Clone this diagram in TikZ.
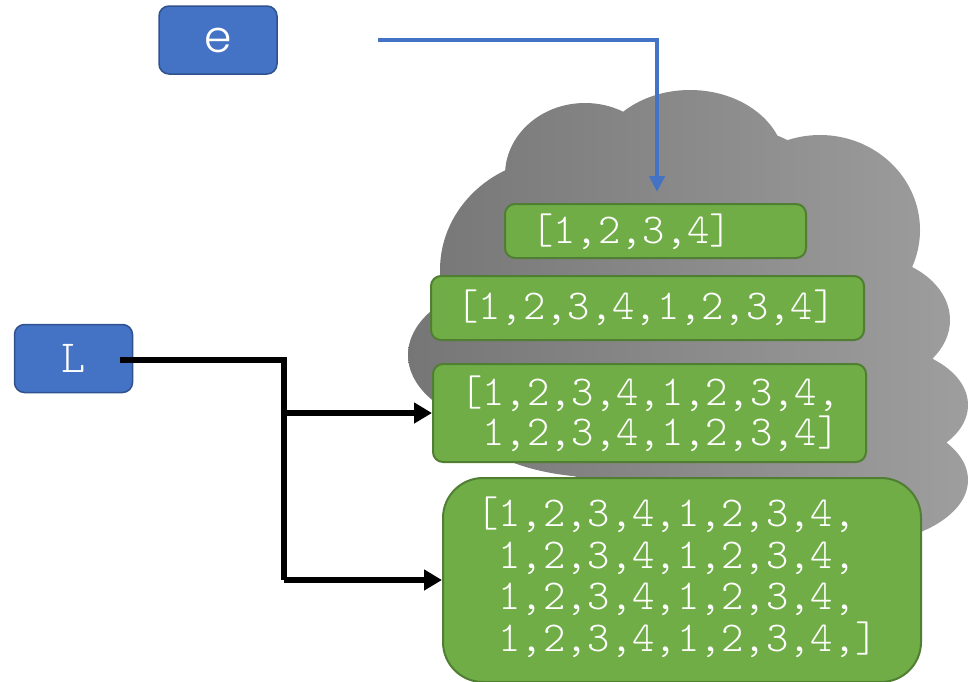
\documentclass[tikz,border=0pt]{standalone}
\usepackage{fontspec}
\usetikzlibrary{arrows.meta,calc}
\newfontfamily\labelfont{Poppins Light}
\newfontfamily\codefont{Latin Modern Mono Light}
\definecolor{boxblue}{HTML}{4472C4}
\definecolor{boxblueedge}{HTML}{2F528F}
\definecolor{listgreen}{HTML}{70AD47}
\definecolor{listgreenedge}{HTML}{507E32}
\definecolor{clouddark}{HTML}{767676}
\definecolor{cloudlight}{HTML}{9E9E9E}
\tikzset{
  varbox/.style={draw=boxblueedge, fill=boxblue, line width=1.5pt, rounded corners=10pt,
    inner sep=0pt, minimum width=118pt, minimum height=68pt, text=white},
  listbox/.style={draw=listgreenedge, fill=listgreen, line width=2pt, rounded corners=10pt,
    inner sep=0pt},
  listtext/.style={anchor=west, inner sep=0pt, text=white, align=left,
    font=\codefont\fontsize{42.5}{41}\selectfont},
  refline/.style={draw=boxblue, line width=4pt, -{Triangle[length=16pt,width=15pt]}},
  copyline/.style={draw=black, line width=6pt, -{Triangle[length=18pt,width=20pt]}},
}
\begin{document}
\begin{tikzpicture}[x=1pt,y=-1pt]
\useasboundingbox (0,0) rectangle (971,681);

% memory cloud
\shade[left color=clouddark, right color=cloudlight]
  (585,175) ellipse [x radius=80pt, y radius=72pt]
  (690,165) ellipse [x radius=95pt, y radius=75pt]
  (820,230) ellipse [x radius=100pt, y radius=95pt]
  (860,320) ellipse [x radius=90pt, y radius=65pt]
  (870,405) ellipse [x radius=98pt, y radius=60pt]
  (850,480) ellipse [x radius=118pt, y radius=65pt]
  (560,270) ellipse [x radius=120pt, y radius=112pt]
  (540,355) ellipse [x radius=132pt, y radius=78pt]
  (610,430) ellipse [x radius=132pt, y radius=48pt]
  (700,320) ellipse [x radius=200pt, y radius=200pt];

% variables
\node[varbox, font=\labelfont\fontsize{44}{44}\selectfont] (e) at (218,40) {e};
\node[varbox, font=\codefont\fontsize{46}{46}\selectfont] (L) at (73.5,358.5) {L};

% list objects
\node[listbox, minimum width=301pt, minimum height=54pt] (b1) at (655.5,231) {};
\node[listbox, minimum width=433pt, minimum height=64pt] (b2) at (647.5,308) {};
\node[listbox, minimum width=433pt, minimum height=98pt] (b3) at (649.5,413) {};
\node[listbox, rounded corners=40pt, minimum width=478pt, minimum height=204pt] (b4) at (682,580) {};

\node[listtext] (t1) at (531,232) {[1,2,3,4]};
\node[listtext] (t2) at (456,308) {[1,2,3,4,1,2,3,4]};
\node[listtext, font=\codefont\fontsize{42.5}{40}\selectfont] (t3) at (460,414)
  {[1,2,3,4,1,2,3,4,\\\hphantom{[}1,2,3,4,1,2,3,4]};
\node[listtext, font=\codefont\fontsize{42.5}{41.5}\selectfont] (t4) at (476,577)
  {[1,2,3,4,1,2,3,4,\\\hphantom{[}1,2,3,4,1,2,3,4,\\\hphantom{[}1,2,3,4,1,2,3,4,\\\hphantom{[}1,2,3,4,1,2,3,4,]};

% reference from e
\coordinate (estart) at (378,40);
\coordinate (ecorner) at (657,40);
\draw[refline, shorten >=11pt] (estart) -- (ecorner) -- (ecorner |- b1.north);

% references from L
\coordinate (Lout) at (120,360);
\coordinate (spine) at (284,360);
\draw[copyline, -] (Lout) -- (spine) -- (spine |- b4.west);
\draw[copyline] (spine |- b3.west) -- (b3.west);
\draw[copyline] (spine |- b4.west) -- (b4.west);
\end{tikzpicture}
\end{document}
